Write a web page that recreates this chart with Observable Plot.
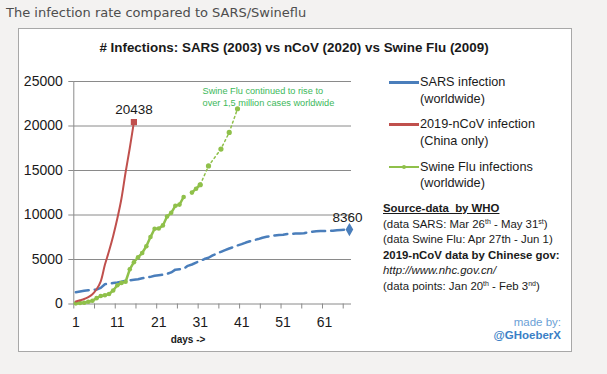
<!DOCTYPE html>
<html>
<head>
<meta charset="utf-8">
<script src="https://cdn.jsdelivr.net/npm/d3@7"></script>
<script src="https://cdn.jsdelivr.net/npm/@observablehq/plot@0.6"></script>
<style>
html, body { margin: 0; padding: 0; }
body { width: 607px; height: 374px; background: #f3f2f1; position: relative; overflow: hidden;
  font-family: "Liberation Sans", sans-serif; color: #1a1a1a; }
#pagetitle { position: absolute; left: 6px; top: 5px; font: 13px "DejaVu Sans", sans-serif; color: #4d4d4d; white-space: nowrap; }
#box { position: absolute; left: 18px; top: 28px; width: 552px; height: 322px; background: #fff; border: 1px solid #a8a8a8; }
#chart { position: absolute; left: 0; top: 0; }
#charttitle { position: absolute; left: 18px; width: 552px; top: 39px; text-align: center; font-weight: bold; font-size: 13.4px; line-height: 18px; white-space: nowrap; }
.legitem { position: absolute; left: 389px; }
.legitem .swatch { position: absolute; left: 0; top: 7px; width: 30px; height: 2.5px; }
.legitem .txt { position: absolute; left: 31px; top: 0; font-size: 12.7px; line-height: 16.5px; white-space: nowrap; }
.legitem .mk { position: absolute; left: 13px; top: 6px; width: 4px; height: 4px; border-radius: 50%; }
#source { position: absolute; left: 383px; top: 201px; font-size: 11.4px; line-height: 15.5px; white-space: nowrap; }
#source sup { font-size: 7px; line-height: 0; vertical-align: 4px; }
#madeby { position: absolute; right: 46px; top: 316px; font-size: 11.5px; line-height: 13.3px; text-align: right; white-space: nowrap; }
#xlabel { position: absolute; left: 168px; width: 40px; top: 333px; text-align: center; font-size: 10px; font-weight: bold; line-height: 14px; white-space: nowrap; }
</style>
</head>
<body>
<div id="pagetitle">The infection rate compared to SARS/Swineflu</div>
<div id="box"></div>
<div id="charttitle"># Infections: SARS (2003) vs nCoV (2020) vs Swine Flu (2009)</div>
<div id="legend"></div>
<div id="source">
  <div style="font-weight:bold;text-decoration:underline;">Source-data&nbsp; by WHO</div>
  <div>(data SARS: Mar 26<sup>th</sup> - May 31<sup>st</sup>)</div>
  <div>(data Swine Flu: Apr 27th - Jun 1)</div>
  <div style="font-weight:bold;">2019-nCoV data by Chinese gov:</div>
  <div style="font-style:italic;">http://www.nhc.gov.cn/</div>
  <div>(data points: Jan 20<sup>th</sup> - Feb 3<sup>nd</sup>)</div>
</div>
<div id="madeby"><div style="color:#6b9fd6;">made by:</div><div style="color:#3b7fc6;font-weight:bold;">@GHoeberX</div></div>
<div id="xlabel">days -&gt;</div>
<div id="chart"></div>
<script>
// ---- data ----
const sarsCases = [1323, 1408, 1485, 1550, 1580, 1622, 1804, 2223, 2270, 2353,
  2416, 2500, 2601, 2671, 2722, 2781, 2890, 2960, 3050, 3169,
  3235, 3293, 3389, 3547, 3861, 3900, 3947, 4288, 4439, 4649,
  4836, 5050, 5200, 5462, 5663, 5865, 6054, 6234, 6400, 6583,
  6727, 6903, 7053, 7183, 7296, 7447, 7548, 7628, 7699, 7761,
  7780, 7864, 7870, 7919, 7930, 7956, 8046, 8114, 8161, 8202,
  8210, 8221, 8240, 8295, 8320, 8345, 8360];
const ncovCases = [291, 420, 560, 780, 1100, 1650, 2550, 4400, 5950, 7650,
  9600, 11850, 14800, 17500, 20438];
const swineCases = [73, 105, 148, 257, 367, 658, 898, 985, 1124, 1516,
  2099, 2371, 2500, 3900, 4694, 5251, 5728, 6497, 7520, 8451,
  8480, 8829, 9830, 10243, 11034, 11168, 12022, null, 12515, 12954,
  13398];
const swineLaterDays = [31, 33, 36, 38, 40];
const swineLaterCases = [13398, 15510, 17410, 19273, 21940];
const yTicks = [0, 5000, 10000, 15000, 20000, 25000];
const xTickLabels = [1, 11, 21, 31, 41, 51, 61];
const xTickMarks = [0.5, 5.5, 10.5, 15.5, 20.5, 25.5, 30.5, 35.5, 40.5, 45.5, 50.5, 55.5, 60.5, 65.5];
const seriesNames = ["SARS infection\n(worldwide)", "2019-nCoV infection\n(China only)", "Swine Flu infections\n(worldwide)"];
const seriesColors = ["#4a7ebb", "#c0504d", "#8fc04a"];
const swineNote = "Swine Flu continued to rise to\nover 1,5 million cases worldwide";

// ---- tables ----
const sars = sarsCases.map((v, i) => ({day: i + 1, cases: v}));
const ncov = ncovCases.map((v, i) => ({day: i + 1, cases: v}));
const swine = swineCases.map((v, i) => ({day: i + 1, cases: v}));
const swineLater = swineLaterDays.map((d, i) => ({day: d, cases: swineLaterCases[i]}));
const [blue, red, green] = seriesColors;
const gridColor = "#8a8a8a";

const chart = Plot.plot({
  width: 607,
  height: 374,
  marginLeft: 73.3,
  marginRight: 256,
  marginTop: 81,
  marginBottom: 70.5,
  x: {domain: [0.5, 67.5], label: null},
  y: {domain: [0, 25000], label: null},
  style: {background: "transparent", fontFamily: "'Liberation Sans', sans-serif", overflow: "visible"},
  marks: [
    Plot.gridY(yTicks.slice(1), {stroke: gridColor, strokeOpacity: 1}),
    Plot.ruleX([0.5], {y1: 0, y2: 25000, stroke: gridColor}),
    Plot.ruleY([0], {x1: 0.5, x2: 67.5, stroke: gridColor}),
    Plot.axisY(yTicks, {tickSize: 5, tickPadding: 6, fontSize: 14, stroke: gridColor, fill: "#1a1a1a", tickFormat: d => String(d), label: null}),
    Plot.axisX(xTickMarks, {tickSize: 5, tickFormat: () => "", stroke: gridColor, label: null}),
    Plot.axisX(xTickLabels, {tickSize: 0, tickPadding: 13, fontSize: 14, fill: "#1a1a1a", tickFormat: d => String(d), label: null}),
    Plot.lineY(sars, {x: "day", y: "cases", stroke: blue, strokeWidth: 2.5, strokeDasharray: "13,6"}),
    Plot.dot(sars.slice(-1), {x: "day", y: "cases", symbol: "diamond", fill: blue, r: 4}),
    Plot.line(swineLater, {x: "day", y: "cases", stroke: green, strokeWidth: 1.5, strokeDasharray: "2,3"}),
    Plot.line(swine, {x: "day", y: "cases", stroke: green, strokeWidth: 2.5}),
    Plot.dot(swine, {x: "day", y: "cases", fill: green, r: 2.3}),
    Plot.dot(swineLater, {x: "day", y: "cases", fill: green, r: 2.6}),
    Plot.line(ncov, {x: "day", y: "cases", stroke: red, strokeWidth: 2, curve: "catmull-rom"}),
    Plot.dot(ncov.slice(-1), {x: "day", y: "cases", symbol: "square", fill: red, r: 3.5}),
    Plot.text(ncov.slice(-1), {x: "day", y: "cases", text: d => String(d.cases), dy: -12, fontSize: 13.5, fill: "#1a1a1a"}),
    Plot.text(sars.slice(-1), {x: "day", y: "cases", text: d => String(d.cases), dx: -2, dy: -12, fontSize: 13.5, fill: "#1a1a1a"}),
    Plot.text(swineLater.slice(-1), {x: "day", y: "cases", text: () => swineNote, textAnchor: "start", lineAnchor: "middle", dx: -35, dy: -13, fontSize: 9.2, lineHeight: 1.3, fill: "#3db85a"})
  ]
});
document.getElementById("chart").appendChild(chart);

// legend
const legend = document.getElementById("legend");
const legTops = [74, 116, 158.5];
seriesNames.forEach((name, i) => {
  const item = document.createElement("div");
  item.className = "legitem";
  item.style.top = legTops[i] + "px";
  const sw = document.createElement("div");
  sw.className = "swatch";
  sw.style.background = seriesColors[i];
  item.appendChild(sw);
  if (i === 2) {
    const mk = document.createElement("div");
    mk.className = "mk";
    mk.style.background = seriesColors[i];
    item.appendChild(mk);
  }
  const t = document.createElement("div");
  t.className = "txt";
  t.innerHTML = name.split("\n").join("<br>");
  item.appendChild(t);
  legend.appendChild(item);
});
</script>
</body>
</html>
